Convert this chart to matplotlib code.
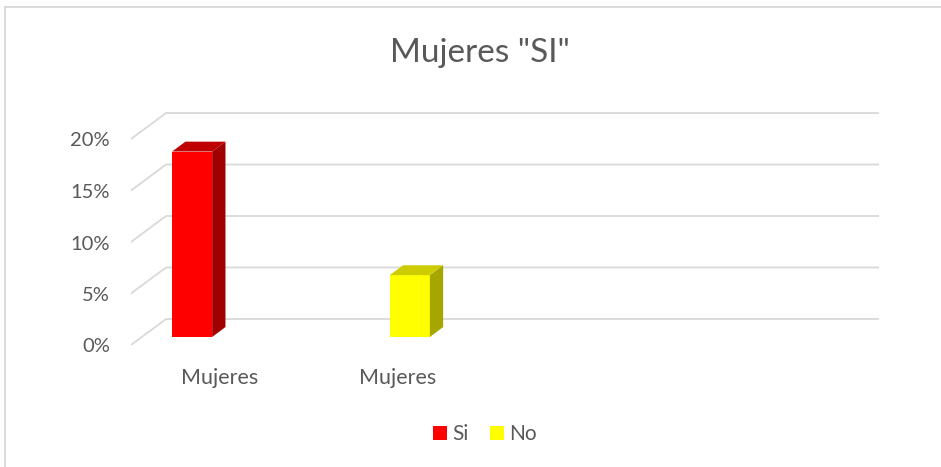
import matplotlib
matplotlib.use("Agg")
import matplotlib.pyplot as plt
from matplotlib.patches import Polygon
import numpy as np

# ---- data ----
title = 'Mujeres "SI"'
categories = ["Mujeres", "Mujeres", "", ""]
series_names = ["Si", "No"]
si_values = [0.18, None, None, None]
no_values = [None, 0.06, None, None]
yticks = [0.0, 0.05, 0.10, 0.15, 0.20]
ytick_labels = ["0%", "5%", "10%", "15%", "20%"]

# ---- style ----
FONT = "Lato"
TXT = "#595959"
GRID = "#d9d9d9"
colors = {"Si": ("#ff0000", "#c00000", "#a00000"),
          "No": ("#ffff00", "#cccc00", "#a6a600")}

W, H, DPI = 941, 467, 100
fig = plt.figure(figsize=(W / DPI, H / DPI), dpi=DPI)
ax = fig.add_axes([0, 0, 1, 1])
ax.set_axis_off()

# pixel mapping for data coords
px_x0, px_cat = 131, 178.0      # x=0 at pixel 131, 178 px per category
px_y0, px_per = 345, 1030.0     # y=0 at pixel row 345, 1030 px per unit
ax.set_xlim(-px_x0 / px_cat, (W - px_x0) / px_cat)
ax.set_ylim(-(H - px_y0) / px_per, px_y0 / px_per)

DX = 35 / px_cat   # depth offset x
DY = 26 / px_per   # depth offset y
XR = (879 - px_x0) / px_cat

# gridlines (floor/back wall)
for v, lab in zip(yticks, ytick_labels):
    ax.plot([0, DX, XR], [v, v + DY, v + DY], color=GRID, lw=1.3,
            solid_capstyle="butt", zorder=1)
    ax.text(-21 / px_cat, v - 2 / px_per, lab, ha="right",
            va="center", fontsize=14.5, color=TXT, family=FONT)

# category labels
for i, c in enumerate(categories):
    if c:
        ax.text(i + 0.5, -33 / px_per, c, ha="center", va="center",
                fontsize=15.5, color=TXT, family=FONT)

# bars
BW = 0.225          # bar width in category units
D0, D1 = 0.31, 0.69  # depth placement fraction
slot_offset = [0.17, 0.393]

def draw_bar(xl, val, cols):
    front, top, side = cols
    xr = xl + BW
    fx0, fy0 = D0 * DX, D0 * DY
    bx0, by0 = D1 * DX, D1 * DY
    ax.add_patch(Polygon([(xl + fx0, fy0), (xr + fx0, fy0), (xr + fx0, val + fy0),
                          (xl + fx0, val + fy0)], closed=True, fc=front,
                         ec="none", zorder=3))
    ax.add_patch(Polygon([(xr + fx0, fy0), (xr + bx0, by0), (xr + bx0, val + by0),
                          (xr + fx0, val + fy0)], closed=True, fc=side,
                         ec="none", zorder=3))
    ax.add_patch(Polygon([(xl + fx0, val + fy0), (xr + fx0, val + fy0),
                          (xr + bx0, val + by0), (xl + bx0, val + by0)],
                         closed=True, fc=top, ec="none", zorder=3))

for s_i, (name, vals) in enumerate(zip(series_names, [si_values, no_values])):
    for i, v in enumerate(vals):
        if v is None:
            continue
        draw_bar(i + slot_offset[s_i], v, colors[name])

# title
fig.text(480 / W, 1 - 53 / H, title, ha="center", va="center", fontsize=24,
         color=TXT, family=FONT)

# legend
handles = [plt.Rectangle((0, 0), 1, 1, fc=colors[n][0], ec="none") for n in series_names]
leg = fig.legend(handles, series_names, loc="center", bbox_to_anchor=(485 / W, 1 - 434 / H),
                 ncol=2, frameon=False, prop={"family": FONT, "size": 15},
                 handlelength=0.68, handleheight=0.68, handletextpad=0.25,
                 columnspacing=1.0, labelcolor=TXT)

# chart border (left and top edges visible)
fig.add_artist(plt.Line2D([5 / W, 5 / W], [0, 1 - 7 / H], transform=fig.transFigure,
                          color=GRID, lw=1.3))
fig.add_artist(plt.Line2D([5 / W, 1], [1 - 7 / H, 1 - 7 / H], transform=fig.transFigure,
                          color=GRID, lw=1.3))

fig.savefig("out.png", dpi=DPI, facecolor="white")
